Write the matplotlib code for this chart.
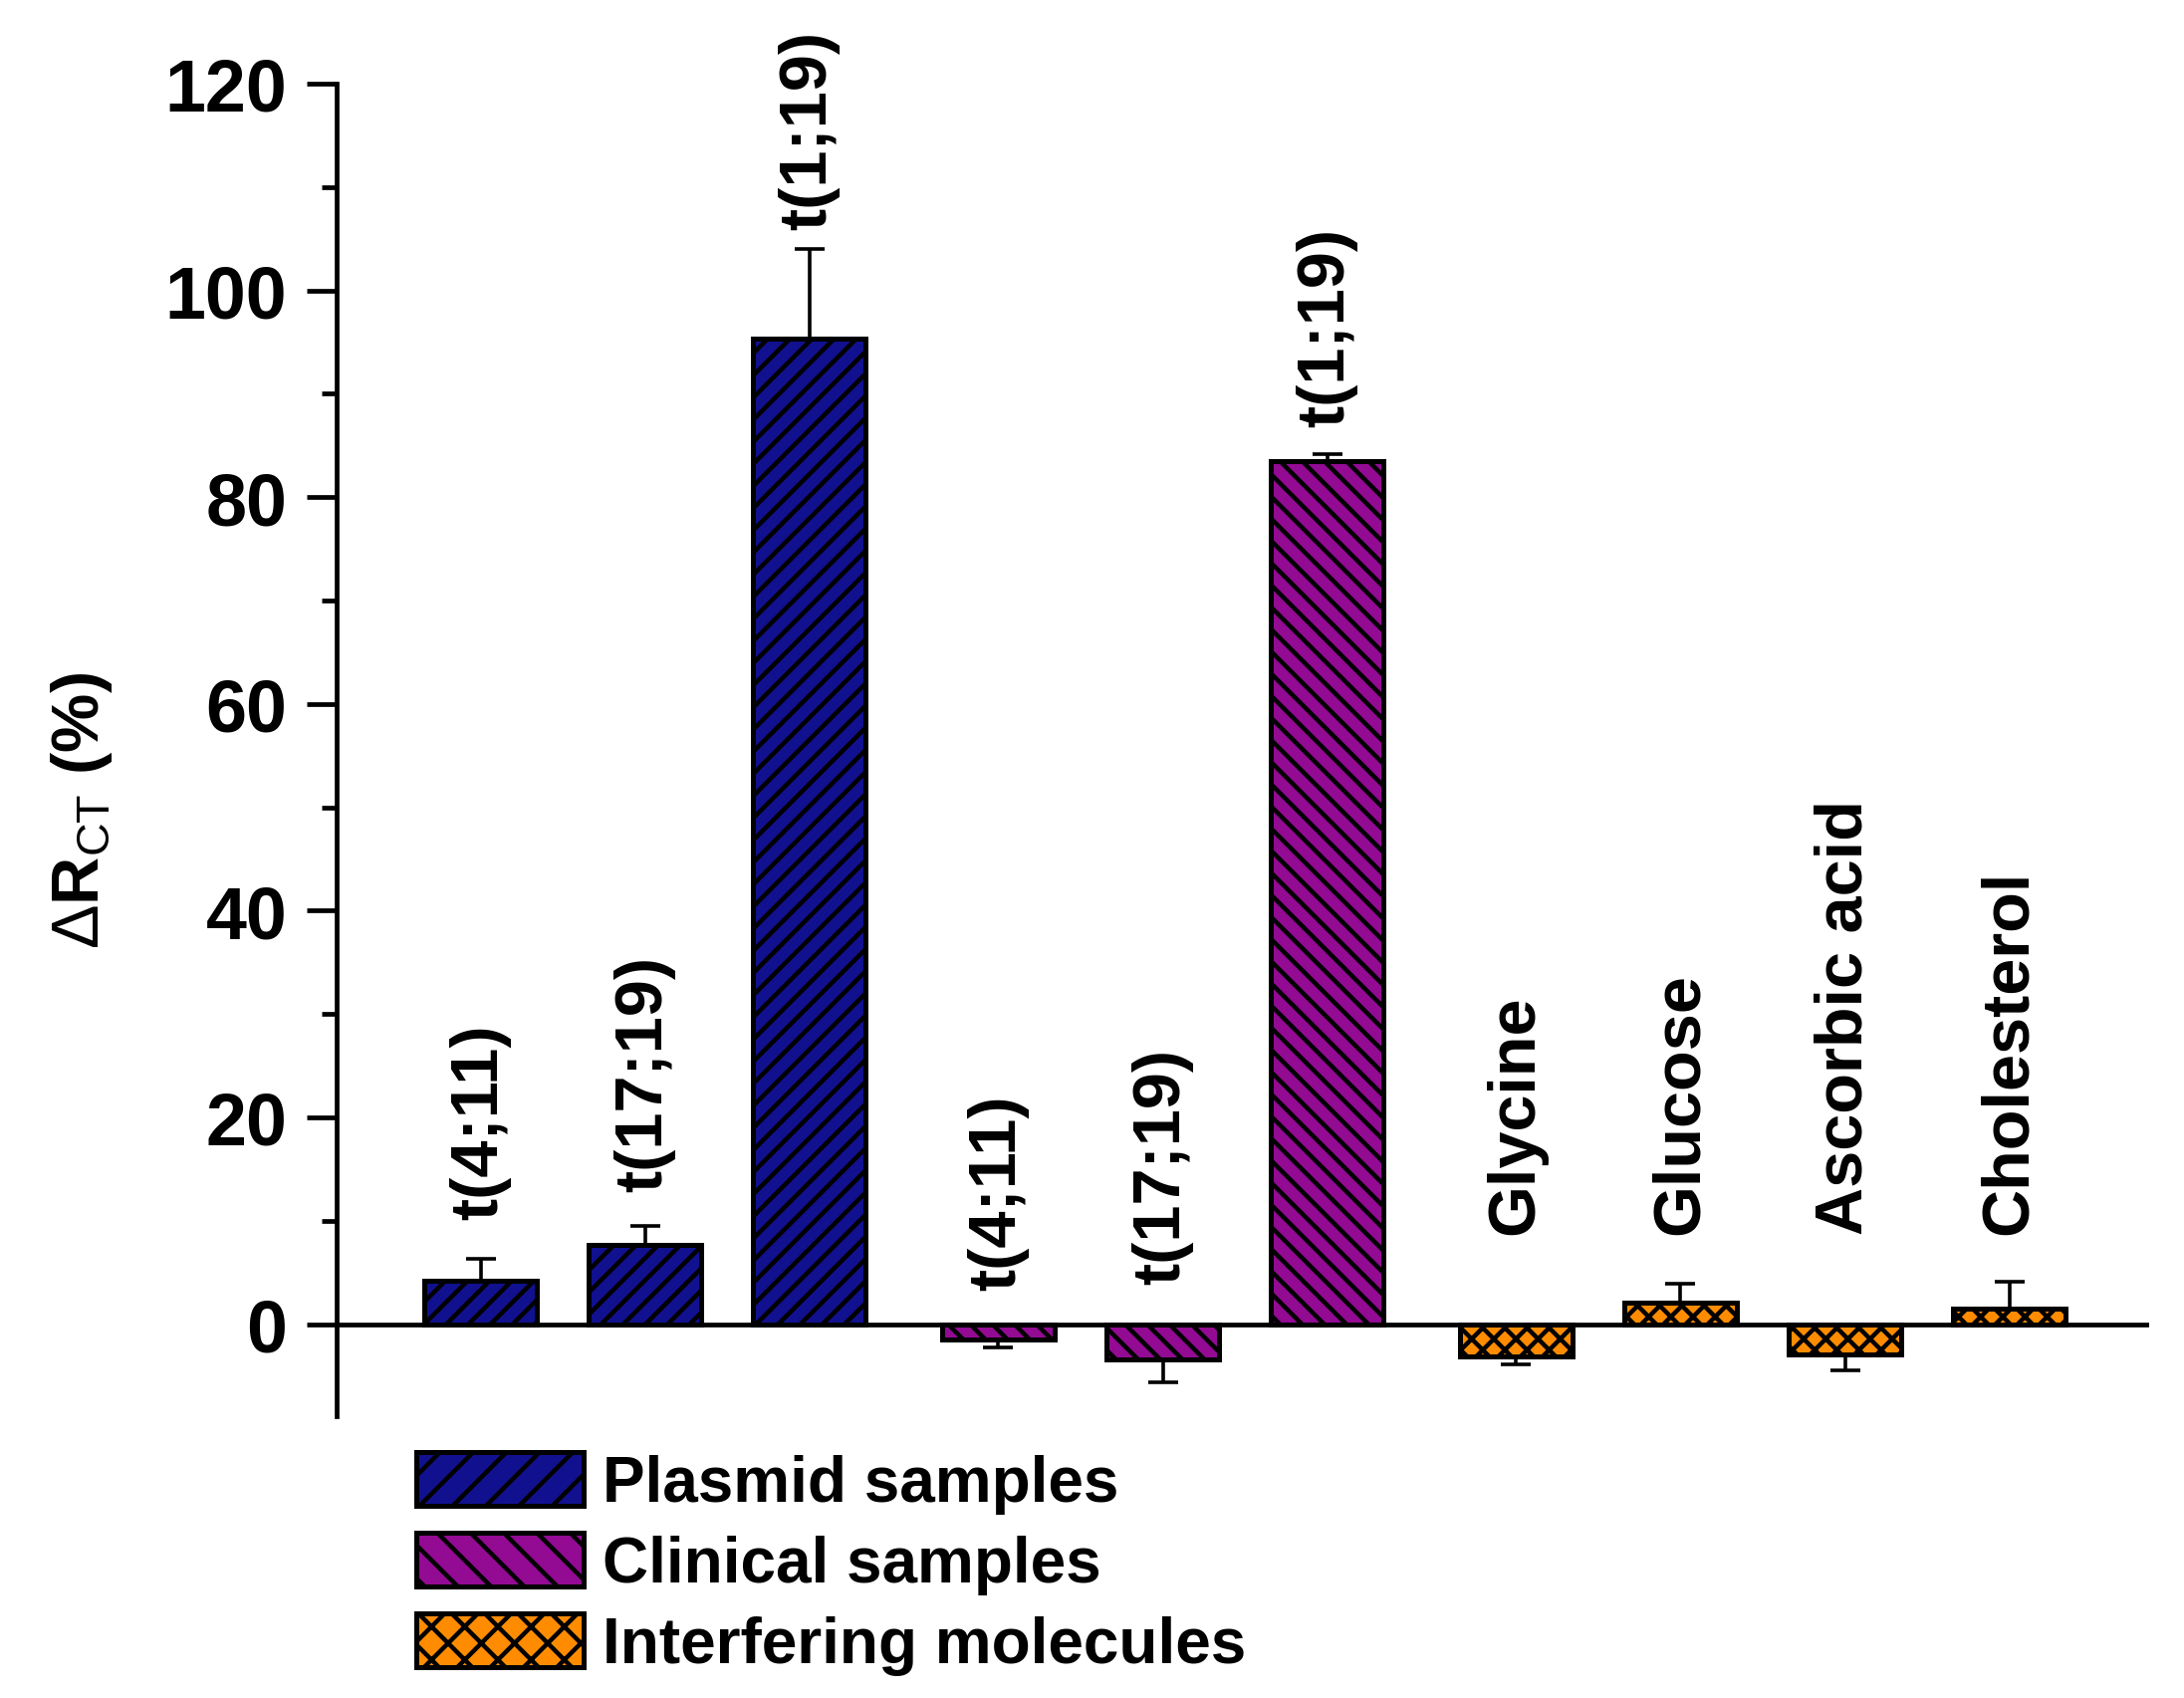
import matplotlib
matplotlib.use("Agg")
import matplotlib.pyplot as plt
from matplotlib.ticker import MultipleLocator
from matplotlib.patches import Patch

plt.rcParams['font.family'] = ['Liberation Sans', 'DejaVu Sans']
plt.rcParams['font.weight'] = 'bold'
plt.rcParams['hatch.linewidth'] = 1.6
plt.rcParams['mathtext.fontset'] = 'custom'
plt.rcParams['mathtext.rm'] = 'Liberation Sans:weight=normal'
plt.rcParams['mathtext.bf'] = 'Liberation Sans:weight=bold'

# data
labels = ['t(4;11)', 't(17;19)', 't(1;19)',
          't(4;11)', 't(17;19)', 't(1;19)',
          'Glycine', 'Glucose', 'Ascorbic acid', 'Cholesterol']
groups = ['plasmid'] * 3 + ['clinical'] * 3 + ['interfering'] * 4
values = [4.2, 7.7, 95.3, -1.5, -3.4, 83.5, -3.1, 2.1, -2.9, 1.5]
errors = [2.1, 1.8, 8.7, 0.8, 2.2, 0.7, 0.8, 1.8, 1.6, 2.6]

# layout
positions = [0, 1, 2, 3.15, 4.15, 5.15, 6.3, 7.3, 8.3, 9.3]
label_y = [10.2, 12.9, 105.9, 3.3, 3.9, 86.9, 8.7, 8.7, 8.7, 8.7]

styles = {
    'plasmid': dict(color='#11118F', hatch='///', lhatch='//', name='Plasmid samples'),
    'clinical': dict(color='#930A93', hatch='\\\\\\', lhatch='\\\\', name='Clinical samples'),
    'interfering': dict(color='#FF8C00', hatch='xxx', lhatch='xx', name='Interfering molecules'),
}

fig = plt.figure(figsize=(10.965, 8.53), dpi=200)
ax = fig.add_axes([0.1541, 0.1659, 0.8299, 0.7843])

ax.axhline(0, color='k', lw=1.7, zorder=4)

for x, v, e, g, lab, ly in zip(positions, values, errors, groups, labels, label_y):
    st = styles[g]
    ax.bar(x, v, width=0.685, facecolor=st['color'], edgecolor='k',
           hatch=st['hatch'], lw=1.8, zorder=3)
    yerr = [[0], [e]] if v >= 0 else [[e], [0]]
    ax.errorbar(x, v, yerr=yerr, fmt='none', ecolor='k', elinewidth=1.3,
                capsize=5.4, capthick=1.3, zorder=2)
    ax.text(x, ly, lab, rotation=90, ha='center', va='bottom', fontsize=24)

ax.set_xlim(-0.876, 10.15)
ax.set_ylim(-8.9, 120)
ax.yaxis.set_major_locator(MultipleLocator(20))
ax.yaxis.set_minor_locator(MultipleLocator(10))
ax.tick_params(axis='y', which='major', labelsize=26.5, width=1.7, length=10.8, pad=7)
ax.tick_params(axis='y', which='minor', width=1.7, length=5.4)
ax.set_xticks([])
for s in ['top', 'right', 'bottom']:
    ax.spines[s].set_visible(False)
ax.spines['left'].set_linewidth(1.7)

ax.set_ylabel(r'$\Delta\mathbf{R}_{\mathrm{CT}}$ (%)', fontsize=24, fontweight='bold')
ax.yaxis.set_label_coords(-0.1225, 0.455)

handles = [Patch(facecolor=styles[k]['color'], edgecolor='k', hatch=styles[k]['lhatch'],
                 lw=1.8, label=styles[k]['name']) for k in ['plasmid', 'clinical', 'interfering']]
ax.legend(handles=handles, loc='upper left', bbox_to_anchor=(0.1906, 0.1448),
          bbox_transform=fig.transFigure, frameon=False, fontsize=23,
          handlelength=2.63, handleheight=0.92, handletextpad=0.3,
          labelspacing=0.3, borderpad=0, borderaxespad=0)

fig.savefig('out.png', dpi=200)
